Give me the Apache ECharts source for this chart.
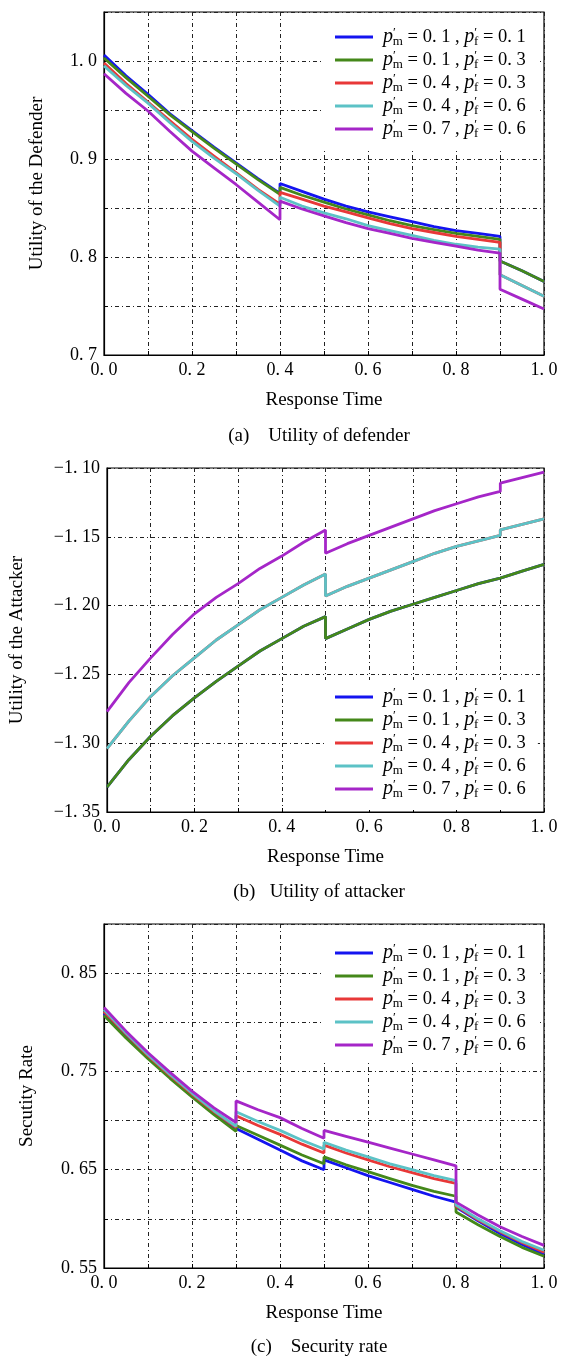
<!DOCTYPE html>
<html>
<head>
<meta charset="utf-8">
<script src="https://cdn.jsdelivr.net/npm/echarts@6/dist/echarts.min.js"></script>
<style>
  html, body { margin: 0; padding: 0; background: #fff; }
  #chart { width: 562px; height: 1357px; }
</style>
</head>
<body>
<div id="chart"></div>
<script>
// legend parameters (p'm, p'f) and line colours
const pmVals = ['0. 1', '0. 1', '0. 4', '0. 4', '0. 7']
const pfVals = ['0. 1', '0. 3', '0. 3', '0. 6', '0. 6']
const colors = ['#1414f0', '#44881a', '#e83838', '#5cc2c6', '#a526c8']

// tick labels
const xTickLabels = ['0. 0', '', '0. 2', '', '0. 4', '', '0. 6', '', '0. 8', '', '1. 0']
const yTickLabelsA = ['0. 7', '', '0. 8', '', '0. 9', '', '1. 0', '']
const yTickLabelsB = ['\u22121. 35', '\u22121. 30', '\u22121. 25', '\u22121. 20', '\u22121. 15', '\u22121. 10']
const yTickLabelsC = ['0. 55', '', '0. 65', '', '0. 75', '', '0. 85', '']

// (a) utility of the defender
const xsA = [0, 0.05, 0.1, 0.15, 0.2, 0.25, 0.3, 0.35, 0.4, 0.4, 0.45, 0.5, 0.55, 0.6, 0.65, 0.7, 0.75, 0.8, 0.85, 0.9, 0.9, 0.95, 1.0]
const defBlue = [1.006, 0.985, 0.966, 0.946, 0.929, 0.912, 0.896, 0.880, 0.865, 0.875, 0.867, 0.859, 0.852, 0.846, 0.841, 0.836, 0.831, 0.827, 0.824, 0.821, 0.796, 0.786, 0.775]
const defGreen = [1.003, 0.983, 0.964, 0.945, 0.928, 0.911, 0.895, 0.879, 0.864, 0.871, 0.863, 0.856, 0.849, 0.843, 0.837, 0.832, 0.828, 0.824, 0.821, 0.818, 0.796, 0.786, 0.775]
const defRed = [0.998, 0.977, 0.958, 0.939, 0.920, 0.903, 0.886, 0.869, 0.854, 0.866, 0.859, 0.852, 0.846, 0.840, 0.834, 0.829, 0.825, 0.821, 0.818, 0.815, 0.782, 0.771, 0.760]
const defCyan = [0.995, 0.975, 0.957, 0.937, 0.918, 0.901, 0.885, 0.868, 0.852, 0.861, 0.852, 0.845, 0.839, 0.832, 0.827, 0.822, 0.817, 0.813, 0.810, 0.808, 0.782, 0.771, 0.760]
const defMagenta = [0.987, 0.967, 0.949, 0.928, 0.908, 0.891, 0.874, 0.856, 0.838, 0.857, 0.849, 0.842, 0.835, 0.829, 0.824, 0.819, 0.815, 0.811, 0.807, 0.804, 0.767, 0.757, 0.747]

// (b) utility of the attacker (blue lies under green, red under cyan)
const xsB = [0, 0.05, 0.1, 0.15, 0.2, 0.25, 0.3, 0.35, 0.4, 0.45, 0.5, 0.5, 0.55, 0.6, 0.65, 0.7, 0.75, 0.8, 0.85, 0.9, 0.9, 0.95, 1.0]
const attGreen = [-1.332, -1.312, -1.295, -1.280, -1.267, -1.255, -1.244, -1.233, -1.224, -1.215, -1.208, -1.224, -1.217, -1.210, -1.204, -1.199, -1.194, -1.189, -1.184, -1.180, -1.180, -1.175, -1.170]
const attCyan = [-1.304, -1.284, -1.266, -1.251, -1.238, -1.225, -1.214, -1.203, -1.194, -1.185, -1.177, -1.193, -1.186, -1.180, -1.174, -1.168, -1.162, -1.157, -1.153, -1.149, -1.145, -1.141, -1.137]
const attMagenta = [-1.277, -1.256, -1.238, -1.221, -1.206, -1.194, -1.184, -1.173, -1.164, -1.154, -1.145, -1.162, -1.155, -1.149, -1.143, -1.137, -1.131, -1.126, -1.121, -1.117, -1.111, -1.107, -1.103]
const attBlue = attGreen
const attRed = attCyan

// (c) security rate
const xsC = [0, 0.05, 0.1, 0.15, 0.2, 0.25, 0.3, 0.3, 0.35, 0.4, 0.45, 0.5, 0.5, 0.55, 0.6, 0.65, 0.7, 0.75, 0.8, 0.8, 0.85, 0.9, 0.95, 1.0]
const secBlue = [0.809, 0.786, 0.765, 0.744, 0.725, 0.707, 0.692, 0.693, 0.681, 0.670, 0.659, 0.650, 0.660, 0.652, 0.644, 0.637, 0.630, 0.623, 0.617, 0.612, 0.598, 0.585, 0.574, 0.564]
const secGreen = [0.807, 0.784, 0.763, 0.743, 0.724, 0.706, 0.689, 0.695, 0.685, 0.675, 0.665, 0.656, 0.663, 0.655, 0.648, 0.641, 0.634, 0.628, 0.623, 0.607, 0.594, 0.582, 0.571, 0.562]
const secRed = [0.811, 0.788, 0.766, 0.746, 0.727, 0.709, 0.693, 0.705, 0.695, 0.686, 0.676, 0.667, 0.675, 0.667, 0.660, 0.653, 0.647, 0.641, 0.636, 0.613, 0.599, 0.587, 0.576, 0.566]
const secCyan = [0.813, 0.789, 0.767, 0.747, 0.728, 0.710, 0.694, 0.709, 0.699, 0.690, 0.680, 0.671, 0.678, 0.670, 0.663, 0.656, 0.650, 0.644, 0.639, 0.614, 0.600, 0.588, 0.577, 0.568]
const secMagenta = [0.815, 0.791, 0.769, 0.749, 0.730, 0.713, 0.698, 0.720, 0.711, 0.703, 0.692, 0.682, 0.690, 0.684, 0.678, 0.672, 0.666, 0.660, 0.654, 0.617, 0.604, 0.592, 0.582, 0.573]

const serif = "'Liberation Serif', 'Times New Roman', 'DejaVu Serif', serif"
const gridLine = { color: '#222', width: 1, type: [4, 3, 1, 3] }
const names = pmVals.map((pm, i) => pm + '|' + pfVals[i])

const chart = echarts.init(document.getElementById('chart'))

function xAxisOf (gi) {
  return {
    type: 'value', gridIndex: gi, min: 0, max: 1, interval: 0.1,
    name: 'Response Time', nameLocation: 'middle', nameGap: 36,
    nameTextStyle: { color: '#000', fontFamily: serif, fontSize: 19 },
    axisLine: { lineStyle: { color: '#000', width: 1.2 } },
    axisTick: { inside: true, length: 4, lineStyle: { color: '#000' } },
    axisLabel: {
      color: '#000', fontFamily: serif, fontSize: 18, margin: 6,
      formatter: (v, i) => xTickLabels[i] || ''
    },
    splitLine: { show: true, lineStyle: gridLine }
  }
}

function yAxisOf (gi, min, max, labels, title, gap) {
  return {
    type: 'value', gridIndex: gi, min: min, max: max, interval: 0.05,
    name: title, nameLocation: 'middle', nameGap: gap,
    nameTextStyle: { color: '#000', fontFamily: serif, fontSize: 19 },
    axisLine: { lineStyle: { color: '#000', width: 1.2 } },
    axisTick: { inside: true, length: 4, lineStyle: { color: '#000' } },
    axisLabel: {
      color: '#000', fontFamily: serif, fontSize: 18, margin: 7,
      formatter: (v, i) => labels[i] || ''
    },
    splitLine: { show: true, lineStyle: gridLine }
  }
}

// legend box is white, so grid lines stop at its edge
function legendOf (top, pad) {
  return {
    orient: 'vertical', left: 324, top: top,
    padding: pad, backgroundColor: '#fff',
    icon: 'rect', itemWidth: 38, itemHeight: 3, itemGap: 1,
    data: names,
    formatter: (name) => {
      const p = name.split('|')
      return '{p|p}{pr|\u2032}{s|m}{t| = ' + p[0] + ' , }{p|p}{pr|\u2032}{s|f}{t| = ' + p[1] + '}'
    },
    textStyle: {
      color: '#000', fontFamily: serif, fontSize: 18, padding: [0, 0, 0, 5],
      rich: {
        p: { fontFamily: serif, fontStyle: 'italic', fontSize: 20, lineHeight: 22 },
        pr: { fontFamily: serif, fontSize: 13, lineHeight: 14, verticalAlign: 'top' },
        s: { fontFamily: serif, fontSize: 13, lineHeight: 14, verticalAlign: 'bottom', padding: [0, 0, 0, -3] },
        t: { fontFamily: serif, fontSize: 18.5, lineHeight: 22 }
      }
    }
  }
}

function seriesOf (gi, xs, lists) {
  return lists.map((ys, k) => ({
    name: names[k], type: 'line', xAxisIndex: gi, yAxisIndex: gi,
    data: xs.map((x, i) => [x, ys[i]]),
    showSymbol: false, symbol: 'none', animation: false,
    color: colors[k],
    lineStyle: { color: colors[k], width: 2.8 }
  }))
}

function caption (y, text) {
  return {
    type: 'text', x: 319, y: y,
    style: { text: text, fontFamily: serif, fontSize: 19, fill: '#000', align: 'center', verticalAlign: 'middle' }
  }
}

const option = {
  backgroundColor: '#fff',
  animation: false,
  grid: [
    { left: 104, top: 12, width: 440, height: 343, show: true, borderColor: '#000', borderWidth: 1.2 },
    { left: 106, top: 468, width: 438, height: 344, show: true, borderColor: '#000', borderWidth: 1.2 },
    { left: 104, top: 924, width: 440, height: 344, show: true, borderColor: '#000', borderWidth: 1.2 }
  ],
  xAxis: [xAxisOf(0), xAxisOf(1), xAxisOf(2)],
  yAxis: [
    yAxisOf(0, 0.7, 1.05, yTickLabelsA, 'Utility of the Defender', 57),
    yAxisOf(1, -1.35, -1.1, yTickLabelsB, 'Utility of the Attacker', 80),
    yAxisOf(2, 0.55, 0.9, yTickLabelsC, 'Secutity Rate', 67)
  ],
  legend: [
    legendOf(13, [13, 12, 8, 11]),
    legendOf(680, [6, 12, 10, 11]),
    legendOf(925, [17, 12, 6, 11])
  ],
  graphic: [
    caption(436, '(a)    Utility of defender'),
    caption(892, '(b)   Utility of attacker'),
    caption(1347, '(c)    Security rate')
  ],
  series: [].concat(
    seriesOf(0, xsA, [defBlue, defGreen, defRed, defCyan, defMagenta]),
    seriesOf(1, xsB, [attBlue, attGreen, attRed, attCyan, attMagenta]),
    seriesOf(2, xsC, [secBlue, secGreen, secRed, secCyan, secMagenta])
  )
}

chart.setOption(option)
</script>
</body>
</html>
